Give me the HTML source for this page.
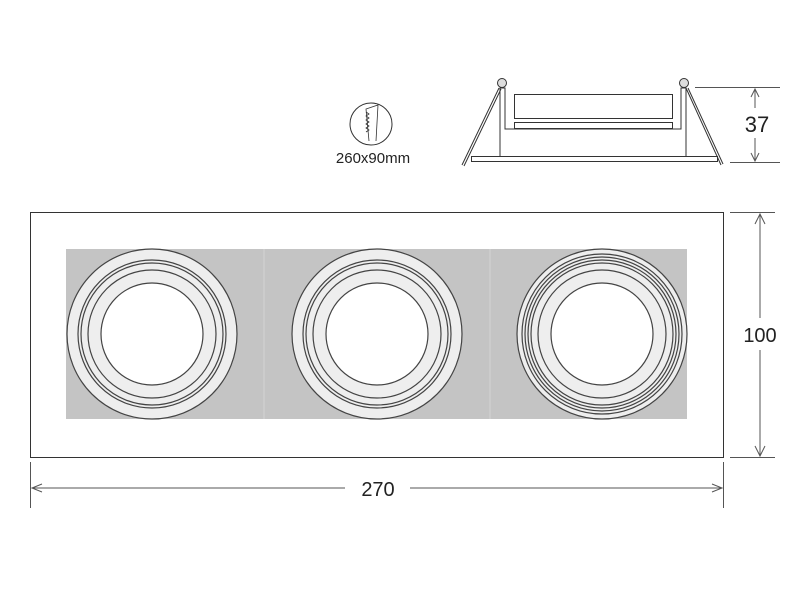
<!DOCTYPE html>
<html><head><style>body{margin:0;background:#fff}svg{display:block}</style></head><body>
<svg width="800" height="600" viewBox="0 0 800 600" xmlns="http://www.w3.org/2000/svg" font-family="Liberation Sans, sans-serif">
<rect width="800" height="600" fill="#fff"/>
<rect x="30.5" y="212.5" width="693" height="245" fill="#fff" stroke="#333" stroke-width="1"/>
<rect x="66" y="249" width="621" height="170" fill="#c4c4c4"/>
<line x1="264" y1="249" x2="264" y2="419" stroke="#d4d4d4"/>
<line x1="490" y1="249" x2="490" y2="419" stroke="#d4d4d4"/>
<g stroke="#444" stroke-width="1.2">
<g transform="translate(152,334)">
<circle r="85" fill="#eee"/><circle r="74" fill="none"/><circle r="71" fill="none"/><circle r="64" fill="none"/><circle r="51" fill="#fff"/>
</g>
<g transform="translate(377,334)">
<circle r="85" fill="#eee"/><circle r="74" fill="none"/><circle r="71" fill="none"/><circle r="64" fill="none"/><circle r="51" fill="#fff"/>
</g>
<g transform="translate(602,334)">
<circle r="85" fill="#eee"/><circle r="80" fill="none"/><circle r="77" fill="none"/><circle r="74" fill="none"/><circle r="71" fill="none"/><circle r="64" fill="none"/><circle r="51" fill="#fff"/>
</g>
</g>
<g stroke="#555" stroke-width="1" fill="none">
<line x1="730" y1="212.5" x2="775" y2="212.5"/>
<line x1="730" y1="457.5" x2="775" y2="457.5"/>
<line x1="760" y1="214" x2="760" y2="318"/>
<line x1="760" y1="350" x2="760" y2="456"/>
<path d="M755 224 L760 214 L765 224 M755 446 L760 456 L765 446"/>
<line x1="30.5" y1="462" x2="30.5" y2="508"/>
<line x1="723.5" y1="462" x2="723.5" y2="508"/>
<line x1="32" y1="488" x2="345" y2="488"/>
<line x1="410" y1="488" x2="722" y2="488"/>
<path d="M42 484 L32 488 L42 492 M712 484 L722 488 L712 492"/>
<line x1="695" y1="87.5" x2="780" y2="87.5"/>
<line x1="730" y1="162.5" x2="780" y2="162.5"/>
<line x1="755" y1="89" x2="755" y2="108"/>
<line x1="755" y1="138" x2="755" y2="161"/>
<path d="M751 97 L755 89 L759 97 M751 153 L755 161 L759 153"/>
</g>
<text x="760" y="342" font-size="20" text-anchor="middle" fill="#222">100</text>
<text x="378" y="496" font-size="20" text-anchor="middle" fill="#222">270</text>
<text x="757" y="132" font-size="22" text-anchor="middle" fill="#222">37</text>
<g stroke="#333" stroke-width="1" fill="none">
<rect x="471.5" y="156.5" width="246" height="5"/>
<polyline points="500,156 500,88 505,88 505,129 681,129 681,88 686,88 686,156"/>
<rect x="514.5" y="94.5" width="158" height="24"/>
<rect x="514.5" y="122.5" width="158" height="6"/>
<line x1="499" y1="88" x2="462" y2="165"/>
<line x1="501" y1="89" x2="464" y2="166"/>
<line x1="686" y1="88" x2="721" y2="165"/>
<line x1="688" y1="88" x2="723" y2="164"/>
<circle cx="502" cy="83" r="4.5" fill="#ddd"/>
<circle cx="684" cy="83" r="4.5" fill="#ddd"/>
<circle cx="371" cy="124" r="21"/>
<path d="M369 141 L366 109 L378 105 L376 141" stroke-width="0.8"/>
<path d="M366 112 l3 2 l-3 2 l3 2 l-3 2 l3 2 l-3 2 l3 2 l-3 2 l3 2 l-3 2" stroke-width="0.8"/>
</g>
<text x="373" y="163" font-size="15" text-anchor="middle" fill="#222">260x90mm</text>
</svg>
</body></html>
